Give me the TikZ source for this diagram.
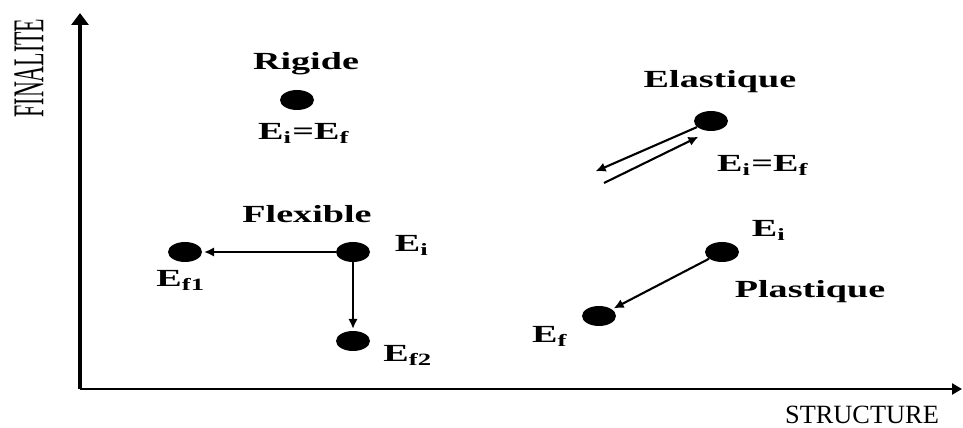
\documentclass[tikz,border=0pt]{standalone}
\usepackage{fontspec}
\setmainfont{Liberation Serif}
\usetikzlibrary{arrows.meta, shapes.geometric}

\newcommand{\wbf}[1]{\scalebox{1.55}[1]{\bfseries #1}}

\begin{document}
\begin{tikzpicture}[x=0.02cm,y=-0.02cm,font=\fontsize{14}{16}\selectfont,
    etat/.style={ellipse,fill=black,inner sep=0pt,minimum width=0.68cm,minimum height=0.40cm},
    lbl/.style={anchor=base},
    fleche/.style={line width=1.2pt,-{Latex[length=2mm,width=1.9mm]},shorten >=1pt}]
\useasboundingbox (0,0) rectangle (963,428);
% axes
\coordinate (O) at (80,389);
\coordinate (ytop) at (80,13);
\coordinate (xend) at (962,389);
\draw[line width=1.8pt,-{Triangle[length=2.4mm,width=3.4mm]}] (O) -- (ytop);
\draw[line width=1.3pt,-{Triangle[length=2mm,width=2.2mm]}] (O) -- (xend);
\node[rotate=90,font=\fontsize{25}{25}\selectfont] (fin) at (29,68) {\scalebox{0.5}[1]{FINALITE}};
\node[lbl,font=\fontsize{15}{15}\selectfont] (str) at (862,424) {STRUCTURE};
% etats
\foreach \n/\x/\y in {rg/297/100, el/711/121, fi/353/252, ff1/185/252,
                      ff2/353/341, pi/722/252, pf/599/316}
    \node[etat] (\n) at (\x,\y) {};
% rigide
\node[lbl] (trg) at (306,70) {\wbf{Rigide}};
\node[lbl] (erg) at (304,140) {\wbf{E\textsubscript{i}=E\textsubscript{f}}};
% elastique
\node[lbl] (tel) at (720,88) {\wbf{Elastique}};
\node[lbl] (eel) at (763,172) {\wbf{E\textsubscript{i}=E\textsubscript{f}}};
\coordinate (elout) at (594,172);
\coordinate (elin) at (604,183);
\coordinate (elend) at (700,136);
\draw[fleche] (el) -- (elout);
\draw[fleche] (elin) -- (elend);
% flexible
\node[lbl] (tfx) at (307,223) {\wbf{Flexible}};
\node[lbl] (efi) at (412,252) {\wbf{E\textsubscript{i}}};
\node[lbl] (ef1) at (181,287) {\wbf{E\textsubscript{f1}}};
\node[lbl] (ef2) at (408,362) {\wbf{E\textsubscript{f2}}};
\draw[fleche] (fi) -- (ff1);
\draw[fleche] (fi) -- (ff2);
% plastique
\node[lbl] (tpl) at (810,298) {\wbf{Plastique}};
\node[lbl] (epi) at (769,237) {\wbf{E\textsubscript{i}}};
\node[lbl] (epf) at (550,343) {\wbf{E\textsubscript{f}}};
\draw[fleche] (pi) -- (pf);
\end{tikzpicture}
\end{document}
